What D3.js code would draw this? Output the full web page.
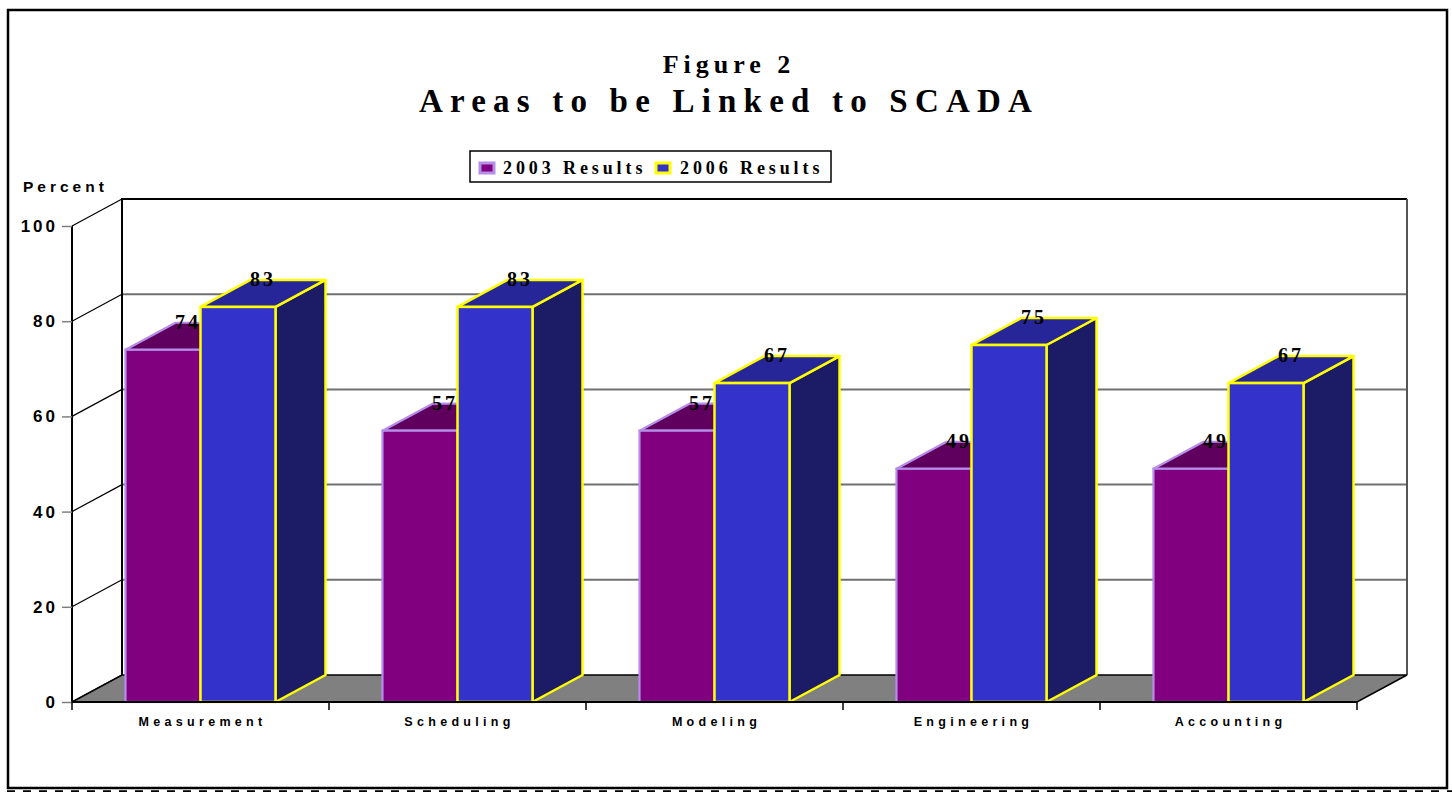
<!DOCTYPE html>
<html>
<head>
<meta charset="utf-8">
<script src="https://cdn.jsdelivr.net/npm/d3@7/dist/d3.min.js"></script>
<style>
    html, body { margin: 0; padding: 0; background: #fff; }
    svg { display: block; }
    .serif { font-family: "Liberation Serif", "Times New Roman", serif; font-weight: bold; }
    .sans { font-family: "Liberation Sans", Arial, sans-serif; font-weight: bold; }
</style>
</head>
<body>
<script>
// Chart data
let categories = ["Measurement", "Scheduling", "Modeling", "Engineering", "Accounting"];
let seriesNames = ["2003 Results", "2006 Results"];
let results2003 = [74, 57, 57, 49, 49];
let results2006 = [83, 83, 67, 75, 67];
let yTicks = [0, 20, 40, 60, 80, 100];

let opts = {
    width: 1452,
    height: 792,
    left: 72,
    right: 1357,
    top: 226,
    bottom: 702,
    dx: 50,
    dy: -27
};

// Face colours for each series: front, top, side, edge
let looks = [
    { front: "#800080", top: "#5f005f", side: "#400040", edge: "#b48ee8", edgeWidth: 2.2 },
    { front: "#3333cc", top: "#262699", side: "#1c1c66", edge: "#ffff00", edgeWidth: 2.5 }
];

let svg = d3.select("body")
            .append("svg")
            .attr("width", opts.width)
            .attr("height", opts.height);

let y = d3.scaleLinear()
          .domain([0, 100])
          .range([opts.bottom, opts.top]);

let x0 = d3.scaleBand()
           .domain(categories)
           .range([opts.left, opts.right]);

let x1 = d3.scaleBand()
           .domain(seriesNames)
           .range([0, x0.bandwidth()])
           .paddingOuter(0.713);

let rows = categories.map((c, i) => ({
    category: c,
    values: [results2003[i], results2006[i]]
}));

drawFrame();
drawTitle();
drawLegend();
drawWalls();
drawBars();
drawAxes();
drawValueLabels();

// Outer border of the figure
function drawFrame() {
    svg.append("rect")
       .attr("x", 8).attr("y", 10)
       .attr("width", 1439).attr("height", 778)
       .attr("fill", "none")
       .attr("stroke", "#000")
       .attr("stroke-width", 2.5);

    svg.append("line")
       .attr("x1", 7).attr("x2", 1452)
       .attr("y1", 791.5).attr("y2", 791.5)
       .attr("stroke", "#000")
       .attr("stroke-width", 2.5)
       .attr("stroke-dasharray", "8 8");
}

// Figure number and title
function drawTitle() {
    svg.append("text")
       .attr("class", "serif")
       .attr("x", 729).attr("y", 73)
       .attr("text-anchor", "middle")
       .attr("font-size", 26)
       .attr("letter-spacing", 5)
       .text("Figure 2");

    svg.append("text")
       .attr("class", "serif")
       .attr("x", 729).attr("y", 112)
       .attr("text-anchor", "middle")
       .attr("font-size", 33)
       .attr("letter-spacing", 7.2)
       .text("Areas to be Linked to SCADA");
}

// Legend box with both series
function drawLegend() {
    svg.append("rect")
       .attr("x", 470).attr("y", 151)
       .attr("width", 361).attr("height", 31)
       .attr("fill", "#fff")
       .attr("stroke", "#000")
       .attr("stroke-width", 1.5);

    let items = [{ sx: 480, tx: 503 }, { sx: 656, tx: 680 }];

    items.forEach((it, i) => {
        svg.append("rect")
           .attr("x", it.sx).attr("y", 163)
           .attr("width", 14).attr("height", 10)
           .attr("fill", looks[i].front)
           .attr("stroke", looks[i].edge)
           .attr("stroke-width", 3);

        svg.append("text")
           .attr("class", "serif")
           .attr("x", it.tx).attr("y", 174)
           .attr("font-size", 18)
           .attr("letter-spacing", 3.9)
           .text(seriesNames[i]);
    });
}

// Back wall, side wall and floor
function drawWalls() {
    let bx = opts.left + opts.dx;
    let rx = opts.right + opts.dx;

    // back wall
    svg.append("rect")
       .attr("x", bx).attr("y", y(100) + opts.dy)
       .attr("width", rx - bx)
       .attr("height", y(0) - y(100))
       .attr("fill", "#fff");

    // gridlines on the back wall
    svg.selectAll(".grid")
       .data(yTicks.filter(t => t > 0 && t < 100))
       .enter()
       .append("line")
       .attr("class", "grid")
       .attr("x1", bx).attr("x2", rx)
       .attr("y1", d => y(d) + opts.dy)
       .attr("y2", d => y(d) + opts.dy)
       .attr("stroke", "#707070")
       .attr("stroke-width", 2);

    // diagonal lines on the side wall
    svg.selectAll(".sideGrid")
       .data(yTicks)
       .enter()
       .append("line")
       .attr("class", "sideGrid")
       .attr("x1", opts.left).attr("x2", bx)
       .attr("y1", d => y(d))
       .attr("y2", d => y(d) + opts.dy)
       .attr("stroke", "#000")
       .attr("stroke-width", 1.2);

    // top and left edge of the back wall
    svg.append("path")
       .attr("d", `M${bx},${y(0) + opts.dy}V${y(100) + opts.dy}H${rx}`)
       .attr("fill", "none")
       .attr("stroke", "#000")
       .attr("stroke-width", 2);

    // right edge of the back wall
    svg.append("line")
       .attr("x1", rx).attr("x2", rx)
       .attr("y1", y(100) + opts.dy)
       .attr("y2", y(0) + opts.dy)
       .attr("stroke", "#555")
       .attr("stroke-width", 2);

    // floor
    let floor = [
        [opts.left, y(0)],
        [opts.right, y(0)],
        [rx, y(0) + opts.dy],
        [bx, y(0) + opts.dy]
    ];
    svg.append("polygon")
       .attr("points", floor.map(p => p.join(",")).join(" "))
       .attr("fill", "#808080")
       .attr("stroke", "#000")
       .attr("stroke-width", 1.5);
}

// Draws the 3D bars, left to right
function drawBars() {
    let groups = svg.selectAll(".cat")
                    .data(rows)
                    .enter()
                    .append("g")
                    .attr("class", "cat")
                    .attr("transform", d => `translate(${x0(d.category)},0)`);

    seriesNames.forEach((s, i) => {
        let look = looks[i];
        let w = x1.bandwidth();

        let bar = groups.append("g");

        // side face
        bar.append("polygon")
           .attr("points", d => {
               let xl = x1(s) + w, yt = y(d.values[i]), yb = y(0);
               return [[xl, yt], [xl + opts.dx, yt + opts.dy],
                       [xl + opts.dx, yb + opts.dy], [xl, yb]].map(p => p.join(",")).join(" ");
           })
           .attr("fill", look.side)
           .attr("stroke", look.edge)
           .attr("stroke-width", look.edgeWidth)
           .attr("stroke-linejoin", "round");

        // top face
        bar.append("polygon")
           .attr("points", d => {
               let xl = x1(s), yt = y(d.values[i]);
               return [[xl, yt], [xl + w, yt], [xl + w + opts.dx, yt + opts.dy],
                       [xl + opts.dx, yt + opts.dy]].map(p => p.join(",")).join(" ");
           })
           .attr("fill", look.top)
           .attr("stroke", look.edge)
           .attr("stroke-width", look.edgeWidth)
           .attr("stroke-linejoin", "round");

        // front face
        bar.append("rect")
           .attr("x", x1(s))
           .attr("y", d => y(d.values[i]))
           .attr("width", w)
           .attr("height", d => y(0) - y(d.values[i]))
           .attr("fill", look.front)
           .attr("stroke", look.edge)
           .attr("stroke-width", look.edgeWidth);
    });
}

// Front value axis and category axis
function drawAxes() {
    let yAxis = d3.axisLeft(y)
                  .tickValues(yTicks)
                  .tickSize(10)
                  .tickPadding(4);

    let ya = svg.append("g")
                .attr("transform", `translate(${opts.left},0)`)
                .call(yAxis);

    ya.select(".domain")
      .attr("stroke", "#000")
      .attr("stroke-width", 2)
      .attr("d", `M0,${y(100)}V${y(0)}`);
    ya.selectAll(".tick line")
      .attr("stroke", "#808080")
      .attr("stroke-width", 1.5);
    ya.selectAll(".tick text")
      .attr("class", "sans")
      .attr("font-size", 17)
      .attr("letter-spacing", 3)
      .attr("x", -14)
      .attr("fill", "#000");

    let xAxis = d3.axisBottom(x0)
                  .tickSize(0)
                  .tickPadding(0);

    let xa = svg.append("g")
                .attr("transform", `translate(0,${y(0)})`)
                .call(xAxis);

    xa.select(".domain")
      .attr("stroke", "#000")
      .attr("stroke-width", 2)
      .attr("d", `M${opts.left},0H${opts.right}`);
    xa.selectAll(".tick text")
      .attr("class", "sans")
      .attr("font-size", 12.5)
      .attr("letter-spacing", 4.3)
      .attr("dx", 2)
      .attr("y", 24)
      .attr("dy", 0)
      .attr("fill", "#000");

    // category separators
    let edges = categories.map(c => x0(c)).concat([opts.right]);
    svg.selectAll(".xTick")
       .data(edges)
       .enter()
       .append("line")
       .attr("class", "xTick")
       .attr("x1", d => d).attr("x2", d => d)
       .attr("y1", y(0)).attr("y2", y(0) + 8)
       .attr("stroke", "#000")
       .attr("stroke-width", 1.5);

    svg.append("text")
       .attr("class", "sans")
       .attr("x", 23).attr("y", 192)
       .attr("font-size", 15.5)
       .attr("letter-spacing", 4)
       .text("Percent");
}

// Numbers above each bar
function drawValueLabels() {
    seriesNames.forEach((s, i) => {
        svg.selectAll(".val" + i)
           .data(rows)
           .enter()
           .append("text")
           .attr("class", "serif val" + i)
           .attr("x", d => x0(d.category) + x1(s) + x1.bandwidth() / 2 + opts.dx / 2)
           .attr("y", d => y(d.values[i]) + opts.dy + 6)
           .attr("text-anchor", "middle")
           .attr("font-size", 20)
           .attr("letter-spacing", 3)
           .text(d => d.values[i]);
    });
}
</script>
</body>
</html>
